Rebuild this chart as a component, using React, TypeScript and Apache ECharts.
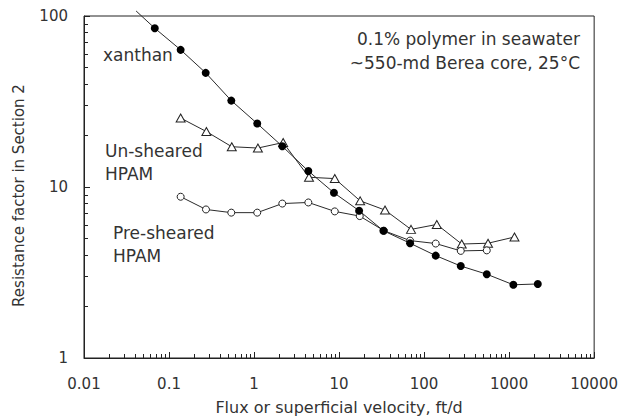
import React, { useEffect, useRef } from 'react';
import * as echarts from 'echarts';

// ---- data ----
const xTickLabels = ['0.01', '0.1', '1', '10', '100', '1000', '10000'];
const yTickLabels = ['1', '10', '100'];

// xanthan: first entry is the start of the drawn line (no marker)
const xanthanX = [0.041, 0.068, 0.137, 0.27, 0.54, 1.09, 2.15, 4.35, 8.7, 17.2, 33.2, 68.4, 137, 270, 546, 1122, 2174];
const xanthanY = [107, 84.8, 63.4, 46.5, 32, 23.5, 17.3, 12.4, 9.25, 7.27, 5.55, 4.69, 3.97, 3.45, 3.09, 2.68, 2.71];

const unshearedX = [0.137, 0.275, 0.547, 1.11, 2.2, 4.43, 8.9, 17.7, 34.7, 70.2, 141, 277, 565, 1156];
const unshearedY = [25.3, 21.1, 17.2, 16.9, 18.2, 11.4, 11.2, 8.3, 7.33, 5.65, 6.04, 4.64, 4.69, 5.1];

const preshearedX = [0.137, 0.272, 0.54, 1.09, 2.15, 4.35, 8.9, 17.5, 33.8, 68.4, 137, 270, 546];
const preshearedY = [8.77, 7.39, 7.08, 7.08, 8.0, 8.12, 7.2, 6.76, 5.55, 4.86, 4.67, 4.23, 4.26];

const xAxisName = 'Flux or superficial velocity, ft/d';
const yAxisName = 'Resistance factor in Section 2';

function minorTicks(loExp: number, hiExp: number): number[] {
  const out: number[] = [];
  for (let e = loExp; e < hiExp; e++) {
    for (let m = 2; m <= 9; m++) out.push(+(m * Math.pow(10, e)).toPrecision(6));
  }
  return out;
}

const FONT = 'DejaVu Sans';
const TXT = '#333';
const LINE = '#2a2a2a';
const AX = '#222';

export default function App() {
  const ref = useRef<HTMLDivElement>(null);

  useEffect(() => {
    document.body.style.margin = '0';
    if (!ref.current) return;
    const chart = echarts.init(ref.current, null, { renderer: 'svg' });

    const labelFmt = (labels: string[], offset: number) => (v: number) => {
      const i = Math.round(Math.log10(v)) + offset;
      return labels[i] ?? String(v);
    };

    const pair = (xs: number[], ys: number[]) => xs.map((x, i) => [x, ys[i]]);

    const xanthanData: any[] = pair(xanthanX, xanthanY).map((p, i) =>
      i === 0 ? { value: p, symbol: 'none' } : p
    );

    const minorX = minorTicks(-2, 4);
    const minorY = minorTicks(0, 2);

    const option: any = {
      animation: false,
      backgroundColor: '#fff',
      grid: {
        left: 84,
        right: 26,
        top: 16,
        bottom: 59,
        show: true,
        borderColor: AX,
        borderWidth: 1,
        backgroundColor: 'transparent',
      },
      xAxis: [
        {
          type: 'log',
          logBase: 10,
          min: 0.01,
          max: 10000,
          position: 'bottom',
          axisLine: { show: true, lineStyle: { color: AX, width: 1 } },
          axisTick: { show: true, inside: true, length: 6, lineStyle: { color: AX, width: 1 } },
          axisLabel: {
            margin: 18,
            fontFamily: FONT,
            fontSize: 15,
            color: TXT,
            formatter: labelFmt(xTickLabels, 2),
          },
          splitLine: { show: false },
          minorTick: { show: false },
          name: xAxisName,
          nameLocation: 'middle',
          nameGap: 41,
          nameTextStyle: { fontFamily: FONT, fontSize: 16, color: TXT },
        },
        {
          type: 'log',
          logBase: 10,
          min: 0.01,
          max: 10000,
          position: 'bottom',
          axisLine: { show: true, lineStyle: { color: 'rgba(0,0,0,0)', width: 1 } },
          axisTick: { show: true, inside: true, length: 4, lineStyle: { color: AX, width: 1 }, customValues: minorX },
          axisLabel: { show: false },
          splitLine: { show: false },
        },
      ],
      yAxis: [
        {
          type: 'log',
          logBase: 10,
          min: 1,
          max: 100,
          position: 'left',
          axisLine: { show: true, lineStyle: { color: AX, width: 1 } },
          axisTick: { show: true, inside: true, length: 6, lineStyle: { color: AX, width: 1 } },
          axisLabel: {
            margin: 16,
            fontFamily: FONT,
            fontSize: 15,
            color: TXT,
            formatter: labelFmt(yTickLabels, 0),
          },
          splitLine: { show: false },
          name: yAxisName,
          nameLocation: 'middle',
          nameGap: 58,
          nameTextStyle: { fontFamily: FONT, fontSize: 15, color: TXT, padding: [0, 17, 0, 0] },
        },
        {
          type: 'log',
          logBase: 10,
          min: 1,
          max: 100,
          position: 'left',
          axisLine: { show: true, lineStyle: { color: 'rgba(0,0,0,0)', width: 1 } },
          axisTick: { show: true, inside: true, length: 4, lineStyle: { color: AX, width: 1 }, customValues: minorY },
          axisLabel: { show: false },
          splitLine: { show: false },
        },
      ],
      series: [
        {
          name: 'xanthan',
          type: 'line',
          xAxisIndex: 0,
          yAxisIndex: 0,
          data: xanthanData,
          symbol: 'circle',
          symbolSize: 8,
          clip: false,
          itemStyle: { color: '#000', borderColor: '#000', borderWidth: 0 },
          lineStyle: { color: LINE, width: 1 },
          z: 3,
        },
        {
          name: 'Un-sheared HPAM',
          type: 'line',
          xAxisIndex: 0,
          yAxisIndex: 0,
          data: pair(unshearedX, unshearedY),
          symbol: 'triangle',
          symbolSize: [9, 8],
          itemStyle: { color: '#fff', borderColor: '#222', borderWidth: 1 },
          lineStyle: { color: LINE, width: 1 },
          z: 2,
        },
        {
          name: 'Pre-sheared HPAM',
          type: 'line',
          xAxisIndex: 0,
          yAxisIndex: 0,
          data: pair(preshearedX, preshearedY),
          symbol: 'circle',
          symbolSize: 7,
          itemStyle: { color: '#fff', borderColor: '#222', borderWidth: 1 },
          lineStyle: { color: LINE, width: 1 },
          z: 2,
        },
      ],
      graphic: [
        { type: 'text', left: 103, top: 46, style: { text: 'xanthan', font: `17px "${FONT}"`, fill: TXT } },
        { type: 'text', left: 105, top: 139, style: { text: 'Un-sheared\nHPAM', font: `17px "${FONT}"`, fill: TXT, lineHeight: 23 } },
        { type: 'text', left: 113, top: 221, style: { text: 'Pre-sheared\nHPAM', font: `17px "${FONT}"`, fill: TXT, lineHeight: 23 } },
        {
          type: 'text',
          x: 580,
          y: 27,
          style: {
            text: '0.1% polymer in seawater\n~550-md Berea core, 25°C',
            font: `17px "${FONT}"`,
            fill: TXT,
            align: 'right',
            lineHeight: 24,
          },
        },
      ],
    };

    chart.setOption(option);
    return () => chart.dispose();
  }, []);

  return <div ref={ref} style={{ width: 621, height: 420 }} />;
}
